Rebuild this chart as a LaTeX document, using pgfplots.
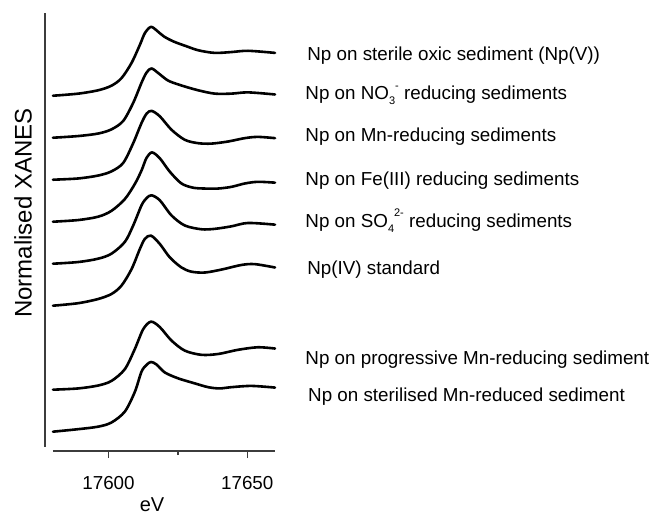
\documentclass[border=0pt]{standalone}
\usepackage{pgfplots}
\pgfplotsset{compat=1.18}
\usepackage{fontspec}
\setmainfont{Liberation Sans}
\definecolor{axisgray}{HTML}{3C3C3C}
\newcommand{\lblfont}{\fontsize{18.8}{21}\selectfont}
\newcommand{\subsup}[2]{\raisebox{-0.28em}{\fontsize{11}{11}\selectfont #1}\raisebox{0.55em}{\fontsize{11}{11}\selectfont #2}}
\tikzset{
  lbl/.style={anchor=west, inner sep=0pt, font=\lblfont, text height=13.5pt, text depth=4pt},
  curve/.style={black, line width=2.6pt, smooth, tension=0.5, line join=round, line cap=round},
}
\begin{document}
\begin{tikzpicture}
\path[use as bounding box] (-53pt,-66pt) rectangle (606pt,451pt);
\begin{axis}[
  scale only axis, width=222pt, height=438pt,
  xmin=17580, xmax=17660, ymin=-0.46, ymax=9.97,
  clip=false,
  axis x line*=bottom, axis y line*=left,
  y axis line style={draw=none},
  x axis line style={-, line width=1.6pt, color=axisgray},
  ytick=\empty,
  xtick={17600,17650}, minor xtick={17625},
  tick align=outside, major tick length=7pt, minor tick length=4pt,
  tick style={line width=1.5pt, color=axisgray},
  scaled x ticks=false,
  /pgf/number format/1000 sep={},
  /pgf/number format/assume math mode=true,
  xticklabel style={font=\lblfont, anchor=base, yshift=-31pt},
  xlabel={eV}, ylabel={Normalised XANES},
  xlabel style={font=\fontsize{20}{22}\selectfont, at={(axis description cs:0.446,0)}, anchor=base, yshift=-60.5pt},
  ylabel style={font=\fontsize{24}{26}\selectfont, at={(axis description cs:-0.135,0.543)}, anchor=center},
]
% y axis line (offset to the left)
\draw[line width=1.8pt, color=axisgray] ([xshift=-8pt]axis cs:17580,-0.364) -- ([xshift=-8pt]axis cs:17580,9.97);

% 1 Np on sterile oxic sediment (Np(V))  (offset 8)
\addplot[curve] coordinates {
(17580,8.00) (17589.1,8.05) (17596.3,8.13) (17601.1,8.24) (17604.7,8.42)
(17608.3,8.78) (17611.3,9.21) (17613.1,9.49) (17615.3,9.64) (17617.6,9.54)
(17620.0,9.41) (17623.5,9.29) (17628.0,9.18) (17632.5,9.08) (17638.3,9.02)
(17644.3,9.04) (17650.3,9.07) (17660,9.02)};
% 2 NO3 (offset 7)
\addplot[curve] coordinates {
(17580,7.00) (17589.1,7.04) (17596.3,7.10) (17601.1,7.20) (17605.3,7.40)
(17608.9,7.83) (17611.9,8.31) (17613.7,8.55) (17615.5,8.65) (17618.3,8.52)
(17621.5,8.36) (17626.0,8.25) (17632.3,8.13) (17638.3,8.05) (17644.3,8.05)
(17650.3,8.08) (17660,8.03)};
% 3 Mn-reducing (offset 6)
\addplot[curve] coordinates {
(17580,6.00) (17589.1,6.03) (17596.3,6.10) (17601.1,6.20) (17605.3,6.40)
(17608.9,6.87) (17611.9,7.35) (17613.7,7.57) (17615.5,7.64) (17618.5,7.51)
(17622.7,7.19) (17627.5,6.95) (17632.3,6.87) (17637.1,6.86) (17643.1,6.91)
(17649.1,6.99) (17653.8,7.02) (17660,6.99)};
% 4 Fe(III) (offset 5)
\addplot[curve] coordinates {
(17580,5.00) (17589.1,5.04) (17596.3,5.12) (17601.1,5.26) (17605.9,5.54)
(17609.5,5.90) (17611.9,6.22) (17613.7,6.52) (17615.7,6.65) (17618.5,6.51)
(17622.1,6.19) (17626.3,5.91) (17630.5,5.81) (17634.7,5.79) (17639.5,5.79)
(17644.3,5.83) (17649.1,5.91) (17653.8,5.95) (17660,5.93)};
% 5 SO4 (offset 4)
\addplot[curve] coordinates {
(17580,4.00) (17589.1,4.04) (17596.3,4.12) (17601.1,4.24) (17605.9,4.52)
(17608.9,4.91) (17611.9,5.39) (17613.7,5.56) (17615.5,5.63) (17618.5,5.51)
(17622.7,5.15) (17627.5,4.91) (17633.5,4.82) (17638.3,4.83) (17644.3,4.89)
(17650.3,4.97) (17660,4.93)};
% 6 Np(IV) standard (offset 3)
\addplot[curve] coordinates {
(17580,3.00) (17589.1,3.06) (17596.3,3.16) (17601.1,3.28) (17604.7,3.48)
(17608.3,3.87) (17611.3,4.35) (17613.1,4.59) (17615.3,4.67) (17618.5,4.47)
(17622.1,4.15) (17626.3,3.91) (17629.9,3.81) (17634.7,3.79) (17640.7,3.86)
(17647.9,3.97) (17652.7,3.99) (17660,3.91)};
% 7 progressive Mn-reducing (offset 1)
\addplot[curve] coordinates {
(17580,1.00) (17589.1,1.03) (17596.3,1.10) (17601.1,1.21) (17605.9,1.49)
(17609.5,1.97) (17612.5,2.44) (17615.3,2.62) (17618.5,2.49) (17622.7,2.17)
(17627.5,1.93) (17633.5,1.83) (17639.5,1.85) (17646.7,1.95) (17653.8,2.01)
(17660,1.98)};
% 8 sterilised Mn-reduced (offset 0)
\addplot[curve] coordinates {
(17580,0.00) (17589.1,0.06) (17596.3,0.12) (17601.1,0.22) (17605.9,0.48)
(17609.5,0.95) (17611.9,1.43) (17613.7,1.59) (17615.3,1.66) (17617.3,1.60)
(17620.3,1.41) (17625.1,1.27) (17631.1,1.15) (17635.9,1.06) (17640.0,1.03)
(17644.3,1.06) (17651.5,1.09) (17660,1.05)};

\node[lbl] at (axis cs:17671.6,8.96) {Np on sterile oxic sediment (Np(V))};
\node[lbl] at (axis cs:17670.9,8.02) {Np on NO\subsup{3}{-} reducing sediments};
\node[lbl] at (axis cs:17670.9,7.02) {Np on Mn-reducing sediments};
\node[lbl] at (axis cs:17670.9,5.98) {Np on Fe(III) reducing sediments};
\node[lbl] at (axis cs:17670.9,4.98) {Np on SO\subsup{4}{2-} reducing sediments};
\node[lbl] at (axis cs:17671.6,3.85) {Np(IV) standard};
\node[lbl] at (axis cs:17670.9,1.71) {Np on progressive Mn-reducing sediment};
\node[lbl] at (axis cs:17671.9,0.83) {Np on sterilised Mn-reduced sediment};
\end{axis}
\end{tikzpicture}
\end{document}
